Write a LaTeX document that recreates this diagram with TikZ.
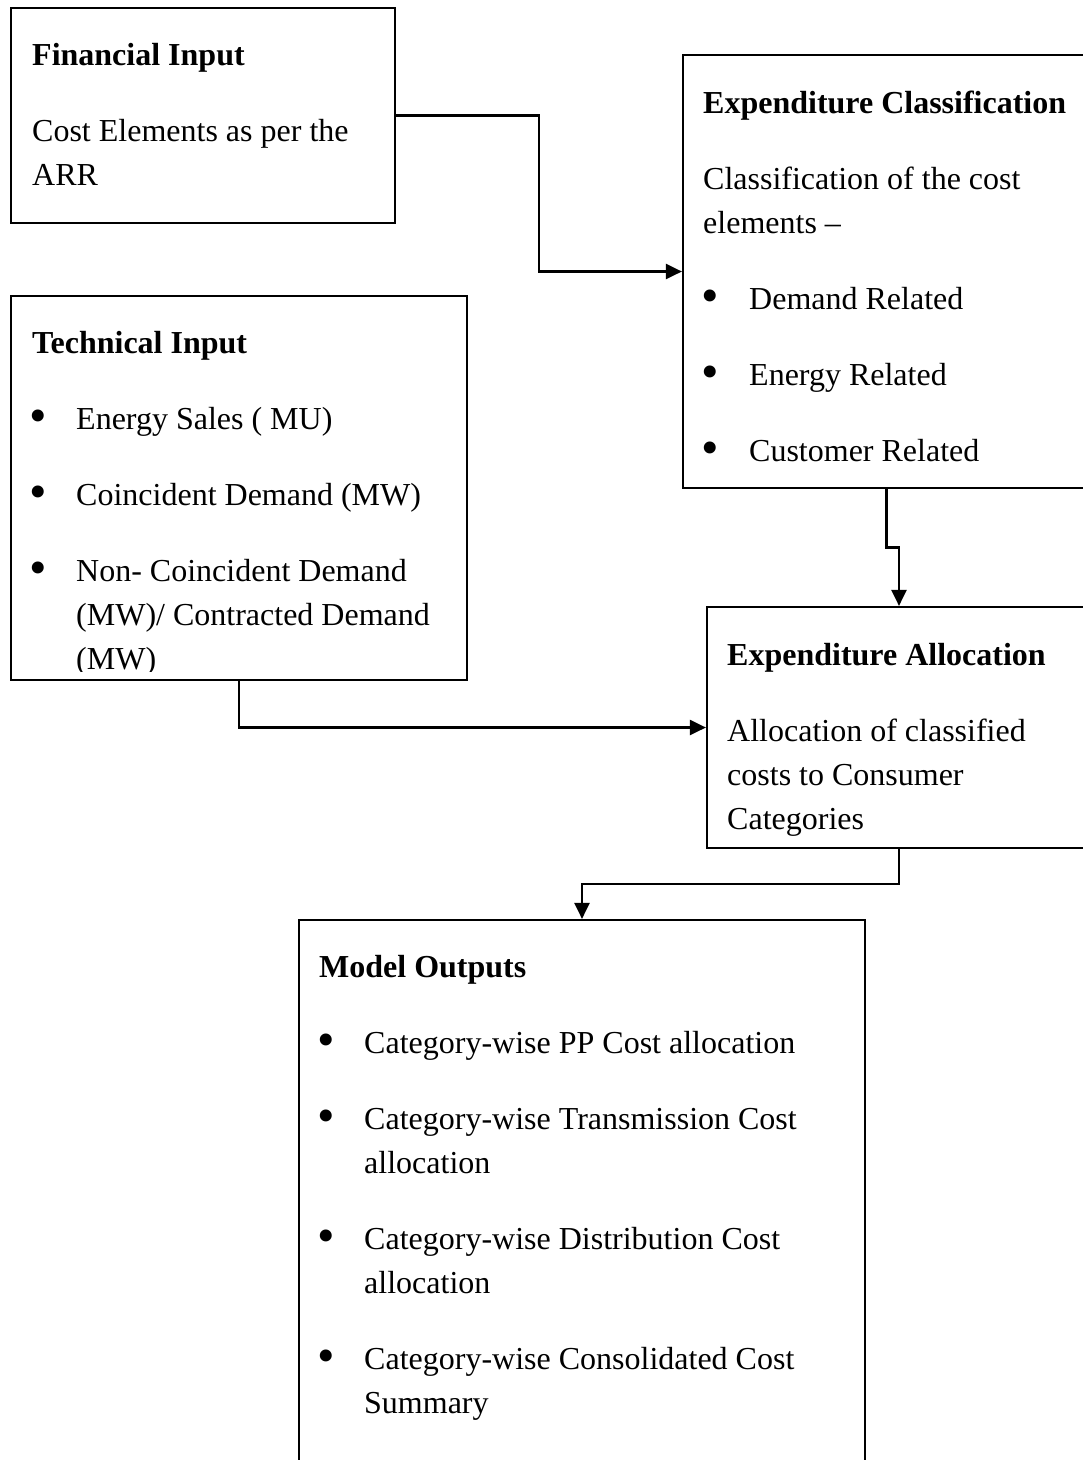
\documentclass[tikz,border=0pt]{standalone}
\usepackage{fontspec}
\setmainfont{Liberation Serif}
\usetikzlibrary{arrows.meta,calc}
\begin{document}
\begin{tikzpicture}[x=1pt,y=-1pt,
  box/.style={draw, line width=2.2pt, inner sep=0pt},
  txt/.style={anchor=base west, inner sep=0pt, font=\fontsize{32}{44}\selectfont},
  ttl/.style={anchor=base west, inner sep=0pt, font=\fontsize{32}{44}\selectfont\bfseries},
  bul/.style={anchor=center, inner sep=0pt, font=\fontsize{50}{50}\selectfont},
  conn/.style={line width=2.2pt, -{Triangle[length=16pt,width=15pt]}}]
\useasboundingbox (0,0) rectangle (1083,1460);
\clip (0,0) rectangle (1083,1460);
% boxes
\node[box, minimum width=384pt, minimum height=215pt] (fin) at (203,115.5) {};
\node[box, minimum width=407pt, minimum height=433pt] (cls) at (886.5,271.5) {};
\node[box, minimum width=456pt, minimum height=384pt] (tech) at (239,488) {};
\node[box, minimum width=384pt, minimum height=241pt] (alloc) at (899,727.5) {};
\node[box, minimum width=566pt, minimum height=560pt] (model) at (582,1200) {};
% Financial Input
\node[ttl] (finT) at (32,65) {Financial Input};
\node[txt] (fin1) at (32,141) {Cost Elements as per the};
\node[txt] (fin2) at (32,185) {ARR};
% Expenditure Classification
\node[ttl] (clsT) at (703,113) {Expenditure Classification};
\node[txt] (cls1) at (703,189) {Classification of the cost};
\node[txt] (cls2) at (703,233) {elements –};
\node[bul] (clsB1) at (710,301) {•};
\node[txt] (cls3) at (749,309) {Demand Related};
\node[bul] (clsB2) at (710,377) {•};
\node[txt] (cls4) at (749,385) {Energy Related};
\node[bul] (clsB3) at (710,453) {•};
\node[txt] (cls5) at (749,461) {Customer Related};
% Technical Input
\node[ttl] (techT) at (32,353) {Technical Input};
\node[bul] (techB1) at (38,421) {•};
\node[txt] (tech1) at (76,429) {Energy Sales ( MU)};
\node[bul] (techB2) at (38,497) {•};
\node[txt] (tech2) at (76,505) {Coincident Demand (MW)};
\node[bul] (techB3) at (38,573) {•};
\node[txt] (tech3) at (76,581) {Non- Coincident Demand};
\node[txt] (tech4) at (76,625) {(MW)/ Contracted Demand};
\begin{scope}
\clip (11,296) rectangle (467,671);
\node[txt] (tech5) at (76,669) {(MW)};
\end{scope}
% Expenditure Allocation
\node[ttl] (allocT) at (727,665) {Expenditure Allocation};
\node[txt] (alloc1) at (727,741) {Allocation of classified};
\node[txt] (alloc2) at (727,785) {costs to Consumer};
\node[txt] (alloc3) at (727,829) {Categories};
% Model Outputs
\node[ttl] (modelT) at (319,977) {Model Outputs};
\node[bul] (mB1) at (326,1045) {•};
\node[txt] (m1) at (364,1053) {Category-wise PP Cost allocation};
\node[bul] (mB2) at (326,1121) {•};
\node[txt] (m2) at (364,1129) {Category-wise Transmission Cost};
\node[txt] (m3) at (364,1173) {allocation};
\node[bul] (mB3) at (326,1241) {•};
\node[txt] (m4) at (364,1249) {Category-wise Distribution Cost};
\node[txt] (m5) at (364,1293) {allocation};
\node[bul] (mB4) at (326,1361) {•};
\node[txt] (m6) at (364,1369) {Category-wise Consolidated Cost};
\node[txt] (m7) at (364,1413) {Summary};
% connectors
\draw[conn] (fin.east) -| ($(fin.east)!0.5!(cls.west)$) |- (cls.west);
\draw[conn] (cls.south) |- ($(cls.south)!0.5!(alloc.north)$) -| (alloc.north);
\draw[conn] (tech.south) |- (alloc.west);
\draw[conn] (alloc.south) |- ($(alloc.south)!0.5!(model.north)$) -| (model.north);
\end{tikzpicture}
\end{document}
